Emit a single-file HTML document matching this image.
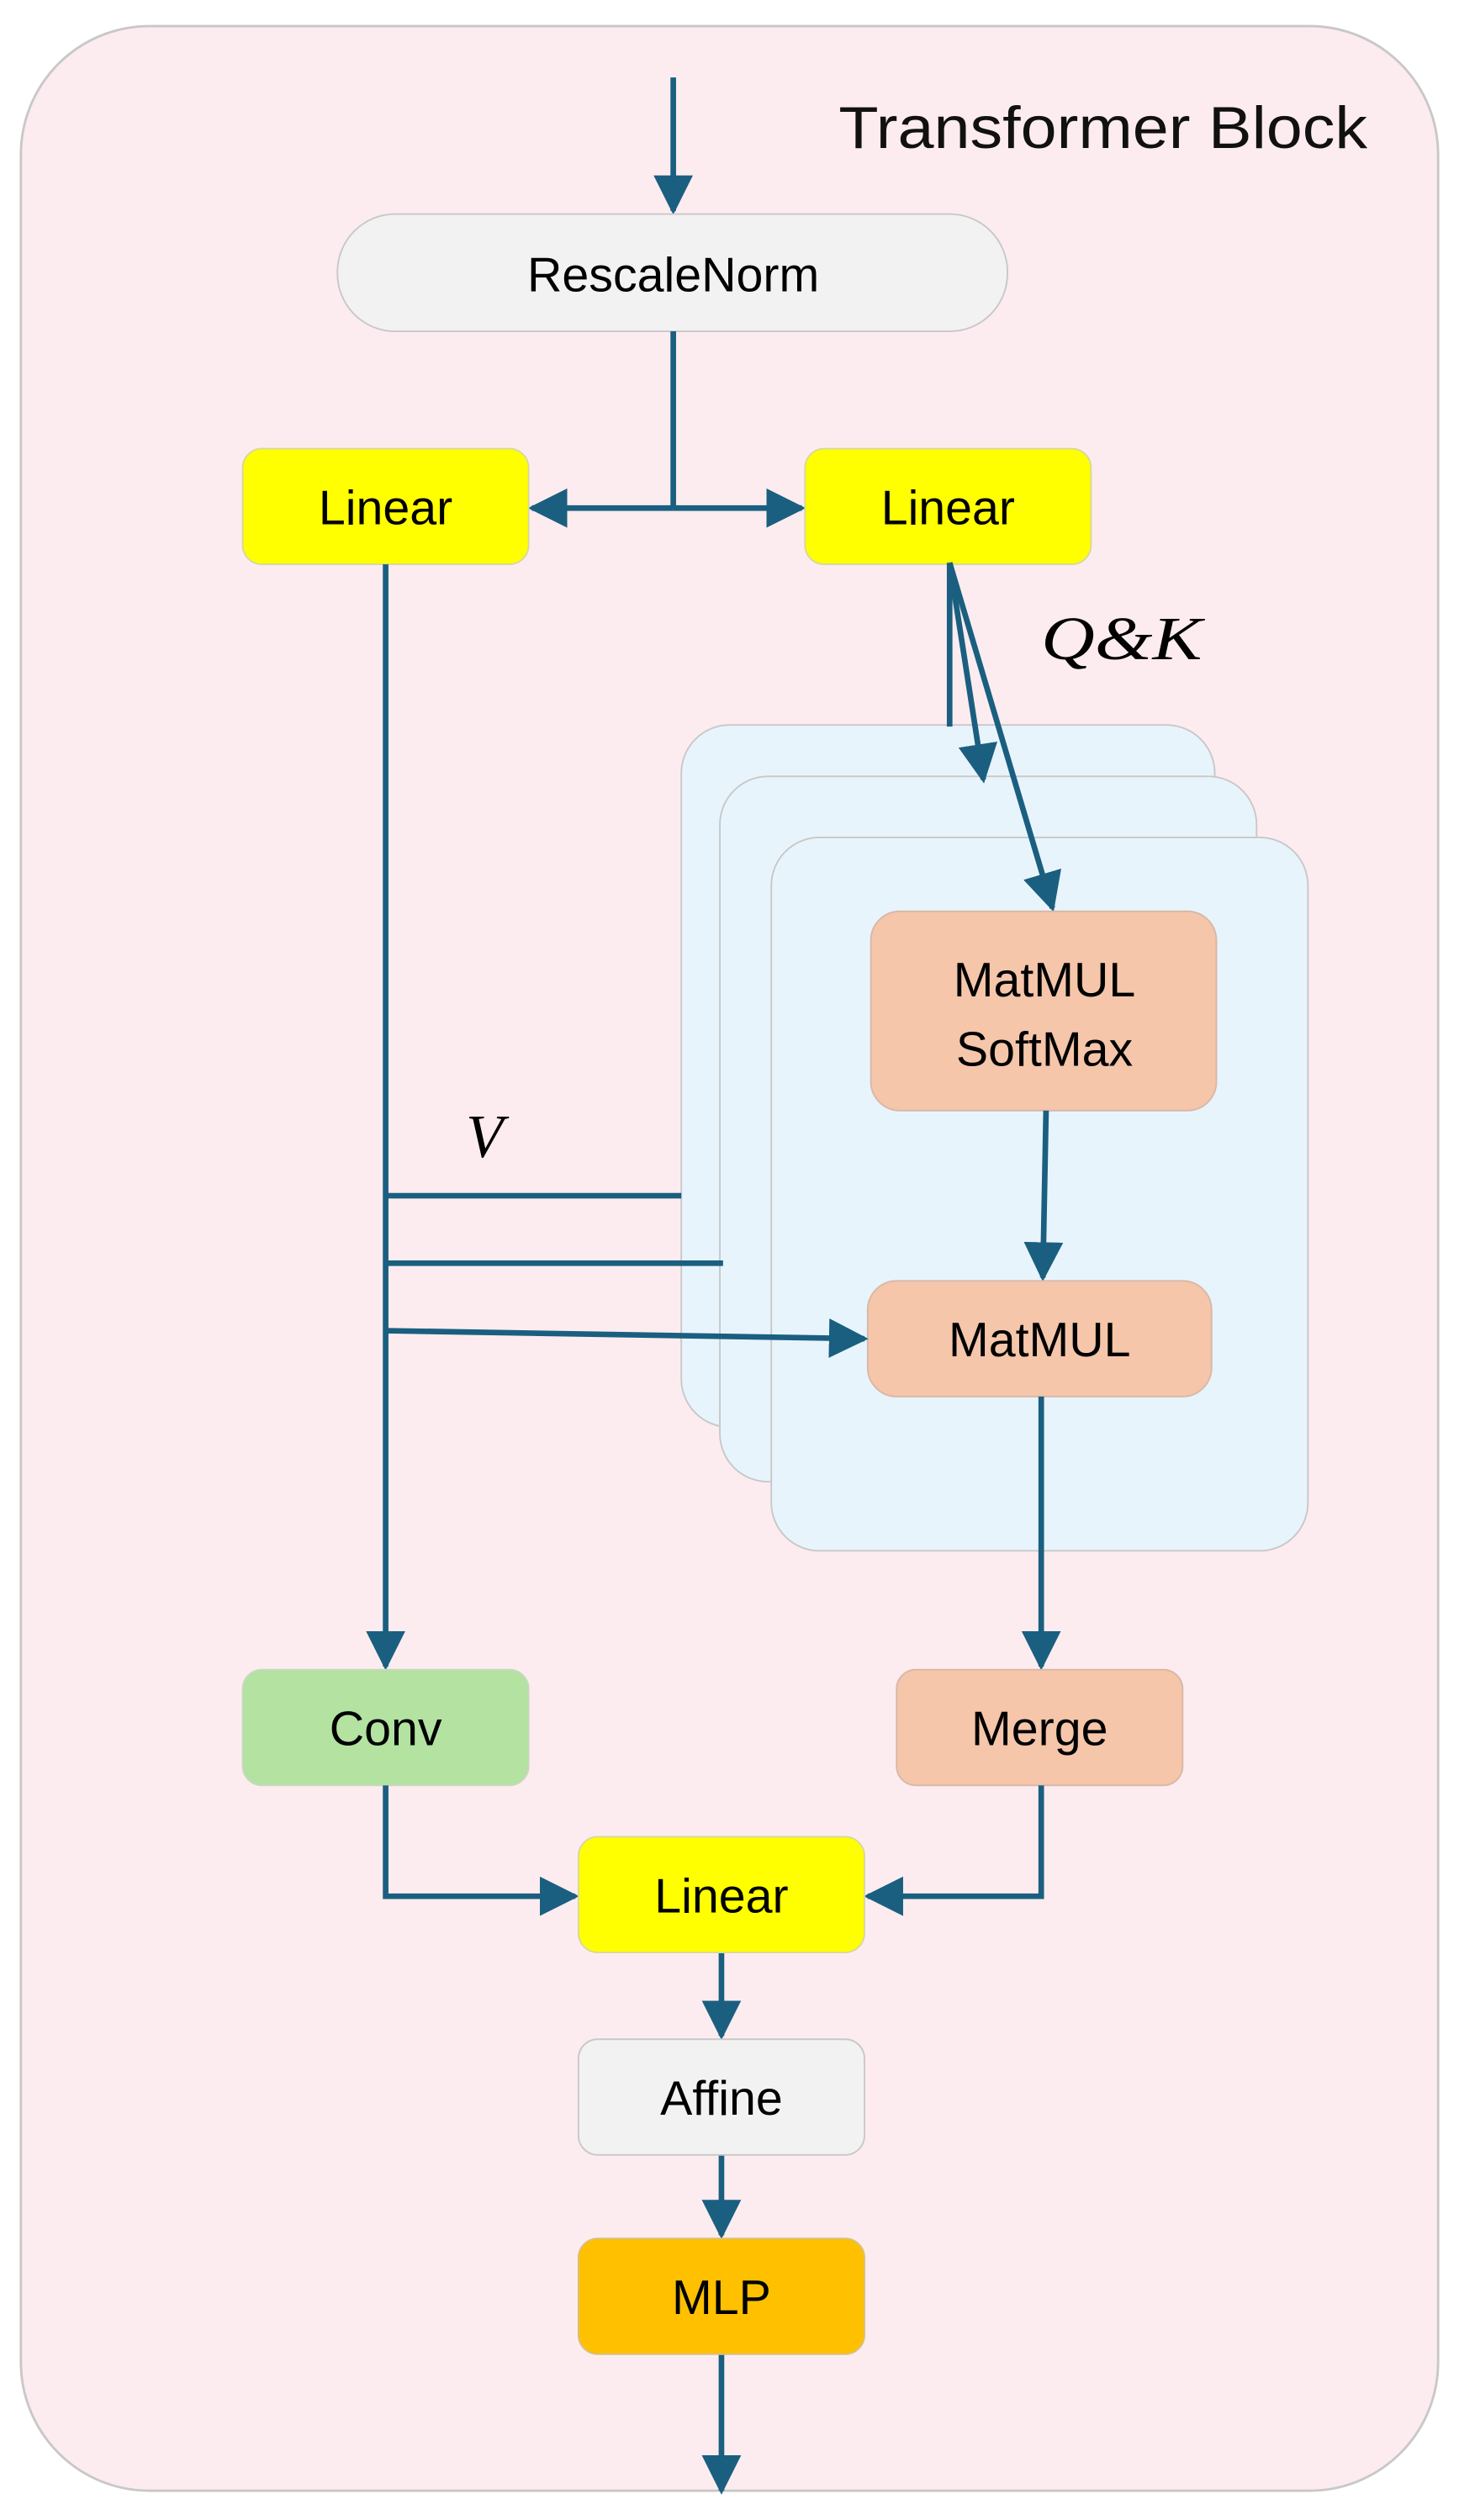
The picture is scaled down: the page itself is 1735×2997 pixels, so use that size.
<!DOCTYPE html>
<html><head><meta charset="utf-8"><style>html,body{margin:0;padding:0;background:#fff}svg{display:block}</style></head>
<body>
<svg width="1735" height="2997" viewBox="0 0 908 1568" xmlns="http://www.w3.org/2000/svg">
<defs>
<marker id="a" viewBox="0 0 10 10" refX="9" refY="5" markerWidth="7" markerHeight="7" markerUnits="strokeWidth" orient="auto"><path d="M0,0 L10,5 L0,10 z" fill="#1a5f80"/></marker>
</defs>
<rect x="13" y="16" width="882" height="1534" rx="80" fill="#fdecef" stroke="#c8c8c8" stroke-width="1.5"/>
<text x="522" y="92" textLength="329" lengthAdjust="spacingAndGlyphs" font-family="Liberation Sans, sans-serif" font-size="37" fill="#111">Transformer Block</text>
<g fill="none" stroke="#1a5f80" stroke-width="3.5">
<line x1="419" y1="48" x2="419" y2="131" marker-end="url(#a)"/>
</g>
<rect x="210" y="133" width="417" height="73" rx="36" fill="#f2f2f2" stroke="#c8c8c8"/>
<text x="419" y="181" text-anchor="middle" font-family="Liberation Sans, sans-serif" font-size="30">RescaleNorm</text>
<g fill="none" stroke="#1a5f80" stroke-width="3.5">
<polyline points="419,206 419,316"/>
<line x1="419" y1="316" x2="331" y2="316" marker-end="url(#a)"/>
<line x1="419" y1="316" x2="499" y2="316" marker-end="url(#a)"/>
</g>
<rect x="151" y="279" width="178" height="72" rx="12" fill="#ffff00" stroke="#d8d8a0"/>
<text x="240" y="326" text-anchor="middle" font-family="Liberation Sans, sans-serif" font-size="30">Linear</text>
<rect x="501" y="279" width="178" height="72" rx="12" fill="#ffff00" stroke="#d8d8a0"/>
<text x="590" y="326" text-anchor="middle" font-family="Liberation Sans, sans-serif" font-size="30">Linear</text>
<text x="648" y="410" textLength="100" lengthAdjust="spacingAndGlyphs" font-family="Liberation Serif, serif" font-style="italic" font-size="38">Q&amp;K</text>
<rect x="424" y="451" width="332" height="437" rx="30" fill="#e8f4fb" stroke="#c8c8c8"/>
<rect x="448" y="483" width="334" height="439" rx="30" fill="#e8f4fb" stroke="#c8c8c8"/>
<rect x="480" y="521" width="334" height="444" rx="30" fill="#e8f4fb" stroke="#c8c8c8"/>
<g fill="none" stroke="#1a5f80" stroke-width="3.5">
<line x1="591" y1="350" x2="591" y2="452"/>
<line x1="591" y1="350" x2="612" y2="485" marker-end="url(#a)"/>
<line x1="591" y1="350" x2="655" y2="565" marker-end="url(#a)"/>
</g>
<rect x="542" y="567" width="215" height="124" rx="18" fill="#f5c6aa" stroke="#d8b8a8"/>
<text x="650" y="620" text-anchor="middle" font-family="Liberation Sans, sans-serif" font-size="30">MatMUL</text>
<text x="650" y="663" text-anchor="middle" font-family="Liberation Sans, sans-serif" font-size="30">SoftMax</text>
<g fill="none" stroke="#1a5f80" stroke-width="3.5">
<line x1="651" y1="691" x2="649" y2="795" marker-end="url(#a)"/>
</g>
<rect x="540" y="797" width="214" height="72" rx="18" fill="#f5c6aa" stroke="#d8b8a8"/>
<text x="647" y="844" text-anchor="middle" font-family="Liberation Sans, sans-serif" font-size="30">MatMUL</text>
<text x="290" y="720" font-family="Liberation Serif, serif" font-style="italic" font-size="38">V</text>
<g fill="none" stroke="#1a5f80" stroke-width="3.5">
<line x1="240" y1="351" x2="240" y2="1037" marker-end="url(#a)"/>
<line x1="240" y1="744" x2="424" y2="744"/>
<line x1="240" y1="786" x2="450" y2="786"/>
<line x1="240" y1="828" x2="538" y2="833" marker-end="url(#a)"/>
<line x1="648" y1="869" x2="648" y2="1037" marker-end="url(#a)"/>
</g>
<rect x="151" y="1039" width="178" height="72" rx="12" fill="#b3e2a1" stroke="#c8d8c0"/>
<text x="240" y="1086" text-anchor="middle" font-family="Liberation Sans, sans-serif" font-size="30">Conv</text>
<rect x="558" y="1039" width="178" height="72" rx="12" fill="#f5c6aa" stroke="#d8b8a8"/>
<text x="647" y="1086" text-anchor="middle" font-family="Liberation Sans, sans-serif" font-size="30">Merge</text>
<g fill="none" stroke="#1a5f80" stroke-width="3.5">
<polyline points="240,1111 240,1180 358,1180" marker-end="url(#a)"/>
<polyline points="648,1111 648,1180 540,1180" marker-end="url(#a)"/>
<line x1="449" y1="1215" x2="449" y2="1267" marker-end="url(#a)"/>
<line x1="449" y1="1341" x2="449" y2="1391" marker-end="url(#a)"/>
<line x1="449" y1="1465" x2="449" y2="1550" marker-end="url(#a)"/>
</g>
<rect x="360" y="1143" width="178" height="72" rx="12" fill="#ffff00" stroke="#d8d8a0"/>
<text x="449" y="1190" text-anchor="middle" font-family="Liberation Sans, sans-serif" font-size="30">Linear</text>
<rect x="360" y="1269" width="178" height="72" rx="12" fill="#f2f2f2" stroke="#c8c8c8"/>
<text x="449" y="1316" text-anchor="middle" font-family="Liberation Sans, sans-serif" font-size="30">Affine</text>
<rect x="360" y="1393" width="178" height="72" rx="12" fill="#ffc000" stroke="#d8c080"/>
<text x="449" y="1440" text-anchor="middle" font-family="Liberation Sans, sans-serif" font-size="30">MLP</text>
</svg>
</body></html>
